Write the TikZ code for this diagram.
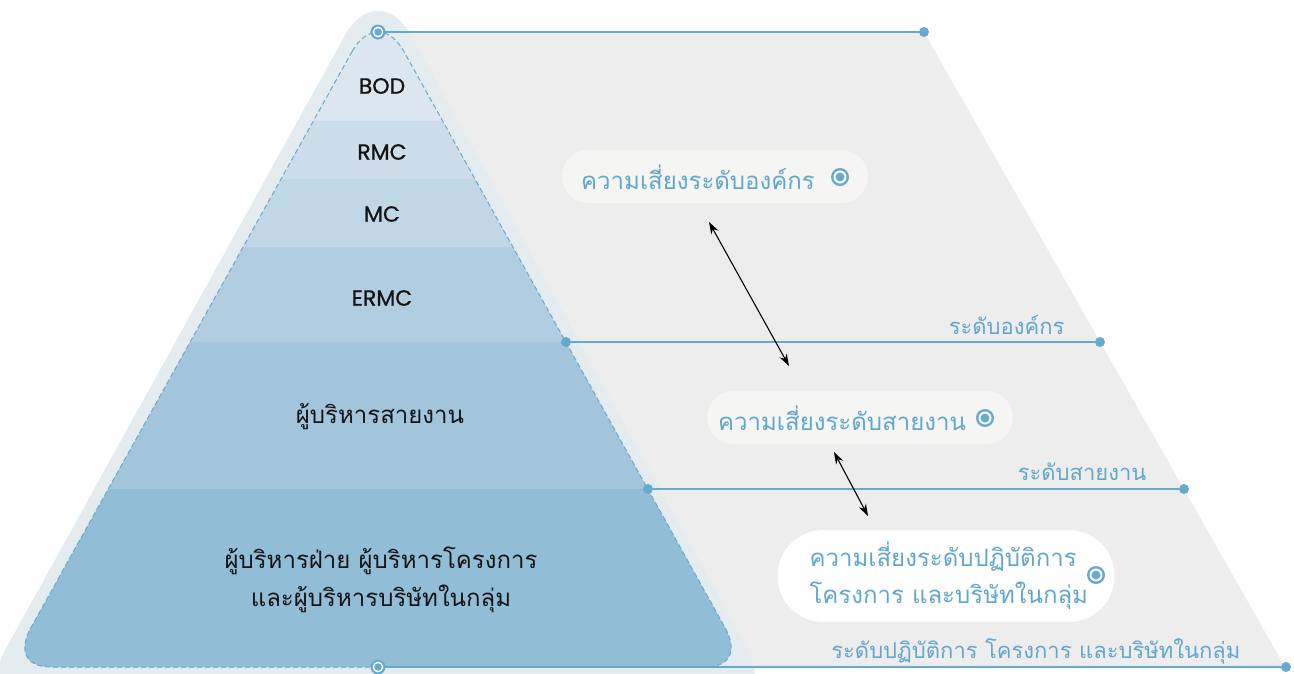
\documentclass[tikz,border=0pt]{standalone}
\usepackage{fontspec}
\newfontfamily\thai[Script=Thai]{Loma}
\newfontfamily\latinf[FakeBold=0.9]{Poppins}
\usetikzlibrary{arrows.meta}
\definecolor{greyf}{HTML}{EDEDED}
\definecolor{palef}{HTML}{E5ECF0}
\definecolor{bandA}{HTML}{DCE6EE}
\definecolor{bandB}{HTML}{CDDEEA}
\definecolor{bandC}{HTML}{C0D7E6}
\definecolor{bandD}{HTML}{B1CEE1}
\definecolor{bandE}{HTML}{A2C5DC}
\definecolor{bandF}{HTML}{92BDD7}
\definecolor{lineb}{HTML}{66AACC}
\definecolor{textb}{HTML}{62A7CB}
\definecolor{pillf}{HTML}{F5F5F3}
\tikzset{
  conn/.style={draw=lineb, line width=2pt},
  dotn/.style={circle, fill=lineb, inner sep=0pt, minimum size=10pt},
  pill/.style={fill=pillf, inner sep=0pt},
  blk/.style={font=\thai\fontsize{24}{38}\selectfont, text=black!92, align=center},
  lat/.style={font=\latinf\fontsize{22}{26}\selectfont, text=black!92},
  pilltext/.style={font=\thai\fontsize{24}{37}\selectfont, text=textb, align=left},
  lvl/.style={font=\thai\fontsize{22}{26}\selectfont, text=textb, anchor=east},
  biarrow/.style={{Stealth[length=12pt,width=8pt]}-{Stealth[length=12pt,width=8pt]}, line width=1.1pt, black},
}
\newcommand{\ringmark}[2]{%
  \fill[lineb] (#1) circle (#2*1pt);
  \fill[white] (#1) circle (#2*0.72pt);
  \fill[lineb] (#1) circle (#2*0.5pt);
}
\begin{document}
\begin{tikzpicture}[x=1pt,y=-1pt]
\useasboundingbox (0,0) rectangle (1294,673);
% grey trapezoid
\fill[greyf] (378,32) -- (924,32) -- (1285,667) -- (378,667) -- cycle;
% outer pale pyramid
\fill[palef] (344.9,35.4) .. controls (363.2,2.6) and (392.8,2.6) .. (411.1,35.4)
  -- (748,650) .. controls (758,670) and (760,690) .. (730,690)
  -- (20,690) .. controls (-4,690) and (-6,672) .. (4,652) -- cycle;
% inner bands clipped
\begin{scope}
\clip (352.2,51.3) .. controls (366.4,25.7) and (389.6,25.7) .. (403.8,51.3)
  -- (725,627.6) .. controls (737.4,650) and (731.3,667) .. (705,667)
  -- (51,667) .. controls (24.7,667) and (18.6,650) .. (31,627.6) -- cycle;
\fill[bandA] (0,0) rectangle (1294,121);
\fill[bandB] (0,121) rectangle (1294,179);
\fill[bandC] (0,179) rectangle (1294,247);
\fill[bandD] (0,247) rectangle (1294,342);
\fill[bandE] (0,342) rectangle (1294,489);
\fill[bandF] (0,489) rectangle (1294,680);
\end{scope}
\draw[lineb, line width=1pt, dash pattern=on 5pt off 3pt]
  (352.2,51.3) .. controls (366.4,25.7) and (389.6,25.7) .. (403.8,51.3)
  -- (725,627.6) .. controls (737.4,650) and (731.3,667) .. (705,667)
  -- (51,667) .. controls (24.7,667) and (18.6,650) .. (31,627.6) -- cycle;
% pyramid labels
\node[lat] (bod) at (382,86) {BOD};
\node[lat] (rmc) at (382,152) {RMC};
\node[lat] (mc) at (382,214) {MC};
\node[lat] (ermc) at (382,298) {ERMC};
\node[blk] (line) at (380,417) {ผู้บริหารสายงาน};
\node[blk] (ops) at (381,580) {ผู้บริหารฝ่าย ผู้บริหารโครงการ\\และผู้บริหารบริษัทในกลุ่ม};
% level lines
\coordinate (r1) at (378,32);
\coordinate (r4) at (378,667);
\node[dotn] (d1) at (924,32) {};
\node[dotn] (l2) at (566,342) {};
\node[dotn] (d2) at (1100,342) {};
\node[dotn] (l3) at (648,489) {};
\node[dotn] (d3) at (1184,489) {};
\node[dotn] (d4) at (1286,667) {};
\draw[conn] (r1) -- (d1);
\draw[conn] (l2) -- (d2);
\draw[conn] (l3) -- (d3);
\draw[conn] (r4) -- (d4);
\ringmark{r1}{7.5}
\ringmark{r4}{7.5}
% level labels
\node[lvl] (t2) at (1068,325) {ระดับองค์กร};
\node[lvl] (t3) at (1150,472) {ระดับสายงาน};
\node[lvl] (t4) at (1244,651) {ระดับปฏิบัติการ โครงการ และบริษัทในกลุ่ม};
% pills
\node[pill, minimum width=306pt, minimum height=53pt, rounded corners=26.5pt] (p1) at (715,176.5) {};
\node[pilltext] (p1t) at (698,177) {ความเสี่ยงระดับองค์กร};
\coordinate (i1) at (840,177);
\ringmark{i1}{9}
\node[pill, minimum width=306pt, minimum height=53pt, rounded corners=26.5pt] (p2) at (860,417.5) {};
\node[pilltext] (p2t) at (842,418) {ความเสี่ยงระดับสายงาน};
\coordinate (i2) at (985,418);
\ringmark{i2}{9}
\node[pill, fill=white, minimum width=337pt, minimum height=92pt, rounded corners=46pt] (p3) at (946,576) {};
\node[pilltext, anchor=west] (p3t) at (806,576) {ความเสี่ยงระดับปฏิบัติการ\\โครงการ และบริษัทในกลุ่ม};
\coordinate (i3) at (1096,575);
\ringmark{i3}{9}
% arrows
\coordinate (a1s) at (709,222);
\coordinate (a1e) at (789,366);
\coordinate (a2s) at (834,452);
\coordinate (a2e) at (868,516);
\draw[biarrow] (a1s) -- (a1e);
\draw[biarrow] (a2s) -- (a2e);
\end{tikzpicture}
\end{document}
